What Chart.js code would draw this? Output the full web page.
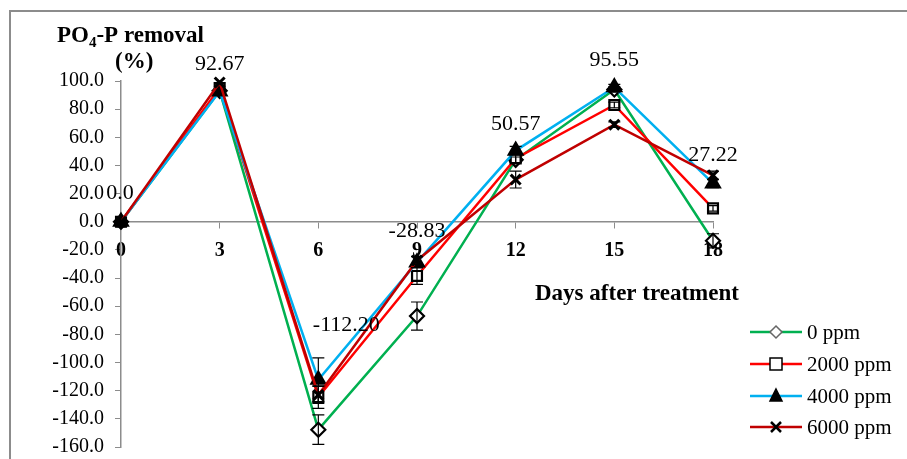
<!DOCTYPE html>
<html lang="en">
<head>
  <meta charset="UTF-8">
  <title>PO4-P removal</title>
  <script src="https://cdn.jsdelivr.net/npm/chart.js"></script>
  <style>
    body { margin: 0; background: #fff; overflow: hidden; }
    #poChart { display: block; }
  </style>
</head>
<body>
  <canvas id="poChart" width="907" height="459"></canvas>

  <script>
    const days = [0, 3, 6, 9, 12, 15, 18];
    const ppm0 = [0, 93.0, -147.7, -67.0, 44.0, 94.0, -13.5];
    const ppm2000 = [0, 95.0, -124.5, -38.5, 45.0, 83.0, 9.5];
    const ppm4000 = [0, 92.67, -112.20, -28.83, 50.57, 95.55, 27.22];
    const ppm6000 = [0, 99.0, -123.0, -27.5, 30.0, 69.0, 33.0];
    const err0 = [0, 0, 10.5, 10, 2, 2, 5];
    const err2000 = [0, 0, 8, 6, 3, 2, 2];
    const err4000 = [0, 0, 15.5, 4, 3, 2, 3];
    const err6000 = [0, 0, 6, 3, 6, 2, 3];
    const labels4000 = ['0.0', '92.67', '-112.20', '-28.83', '50.57', '95.55', '27.22'];
    const yTicks = [100, 80, 60, 40, 20, 0, -20, -40, -60, -80, -100, -120, -140, -160];

    const serif = "'Liberation Serif', 'Times New Roman', serif";

    function pts(vals) {
      return days.map((d, i) => ({ x: d, y: vals[i] }));
    }

    function series(label, vals, errs, color, style, fill, order) {
      return {
        label: label,
        data: pts(vals),
        errors: errs,
        order: order,
        borderColor: color,
        backgroundColor: color,
        borderWidth: 2.5,
        pointStyle: style,
        pointRadius: style === 'triangle' ? 8 : 7,
        pointBorderColor: '#000',
        pointBackgroundColor: fill,
        pointBorderWidth: style === 'crossRot' ? 3 : 2.2,
        clip: false
      };
    }

    // error bars, data labels, titles, legend and frame
    const extras = {
      id: 'extras',
      afterDatasetsDraw(chart) {
        const c = chart.ctx;
        const ys = chart.scales.y;
        c.save();
        c.strokeStyle = '#000';
        c.lineWidth = 1.2;
        chart.data.datasets.forEach((ds, di) => {
          const meta = chart.getDatasetMeta(di);
          meta.data.forEach((p, i) => {
            const e = ds.errors[i];
            if (!e) return;
            const v = ds.data[i].y;
            const top = ys.getPixelForValue(v + e);
            const bot = ys.getPixelForValue(v - e);
            c.beginPath();
            c.moveTo(p.x, top); c.lineTo(p.x, bot);
            c.moveTo(p.x - 6, top); c.lineTo(p.x + 6, top);
            c.moveTo(p.x - 6, bot); c.lineTo(p.x + 6, bot);
            c.stroke();
          });
        });

        // data labels for 4000 ppm
        const nudge = [[-1, 23], [0, 21], [28, 49], [0, 25], [0, 21], [0, 21], [0, 22]];
        const meta4 = chart.getDatasetMeta(2);
        c.fillStyle = '#000';
        c.font = '22px ' + serif;
        c.textAlign = 'center';
        c.textBaseline = 'alphabetic';
        meta4.data.forEach((p, i) => {
          c.fillText(labels4000[i], p.x + nudge[i][0], p.y - nudge[i][1]);
        });
        c.restore();
      },
      afterDraw(chart) {
        const c = chart.ctx;
        c.save();
        // frame
        c.strokeStyle = '#8c8c8c';
        c.lineWidth = 2;
        c.strokeRect(10, 11, 920, 480);

        // y title
        c.fillStyle = '#000';
        c.textAlign = 'left';
        c.textBaseline = 'alphabetic';
        c.font = 'bold 23px ' + serif;
        let x = 57;
        c.fillText('PO', x, 42);
        x += c.measureText('PO').width;
        c.font = 'bold 15px ' + serif;
        c.fillText('4', x, 47);
        x += c.measureText('4').width;
        c.font = 'bold 23px ' + serif;
        c.fillText('-P removal', x, 42);
        c.fillText('(%)', 115, 68);

        // x title
        c.fillText('Days after treatment', 535, 300);

        // legend
        const rows = [332, 364, 396, 427];
        chart.data.datasets.forEach((ds, i) => {
          const y = rows[i];
          c.strokeStyle = ds.borderColor;
          c.lineWidth = 2.5;
          c.beginPath();
          c.moveTo(750, y); c.lineTo(802, y);
          c.stroke();
          c.fillStyle = ds.pointBackgroundColor;
          c.strokeStyle = i === 0 ? '#666' : '#000';
          c.lineWidth = 1.5;
          c.beginPath();
          if (ds.pointStyle === 'rectRot') {
            c.moveTo(776, y - 6); c.lineTo(782, y); c.lineTo(776, y + 6); c.lineTo(770, y); c.closePath();
            c.fill(); c.stroke();
          } else if (ds.pointStyle === 'rect') {
            c.rect(770, y - 6, 12, 12);
            c.fill(); c.stroke();
          } else if (ds.pointStyle === 'triangle') {
            c.moveTo(776, y - 7); c.lineTo(782, y + 5); c.lineTo(770, y + 5); c.closePath();
            c.fill(); c.stroke();
          } else {
            c.lineWidth = 2.5;
            c.moveTo(771, y - 5); c.lineTo(781, y + 5);
            c.moveTo(781, y - 5); c.lineTo(771, y + 5);
            c.stroke();
          }
          c.fillStyle = '#000';
          c.font = '21px ' + serif;
          c.textBaseline = 'middle';
          c.fillText(ds.label, 807, y + 1);
        });
        c.restore();
      }
    };

    const ctx = document.getElementById('poChart').getContext('2d');

    const chart = new Chart(ctx, {
      type: 'line',
      data: {
        datasets: [
          series('0 ppm', ppm0, err0, '#00b050', 'rectRot', '#fff', 3),
          series('2000 ppm', ppm2000, err2000, '#ff0000', 'rect', '#fff', 2),
          series('4000 ppm', ppm4000, err4000, '#00b0f0', 'triangle', '#000', 1),
          series('6000 ppm', ppm6000, err6000, '#c00000', 'crossRot', '#000', 0)
        ]
      },
      options: {
        responsive: false,
        animation: false,
        layout: { padding: { top: 81, right: 194, bottom: 12, left: 0 } },
        plugins: {
          legend: { display: false },
          tooltip: { enabled: false }
        },
        scales: {
          x: {
            type: 'linear',
            position: { y: 0 },
            min: 0,
            max: 18,
            afterBuildTicks: (scale) => { scale.ticks = days.map(d => ({ value: d })); },
            ticks: {
              color: '#000',
              padding: 11,
              font: { family: serif, size: 20, weight: 'bold' }
            },
            grid: { drawOnChartArea: false, tickLength: 6, color: '#8c8c8c' },
            border: { color: '#8c8c8c', width: 1.5 }
          },
          y: {
            min: -160,
            max: 100,
            afterBuildTicks: (scale) => { scale.ticks = yTicks.map(v => ({ value: v })); },
            afterFit: (scale) => {
              scale.width = 121;
              scale.paddingTop = 0;
              scale.paddingBottom = 0;
            },
            ticks: {
              color: '#000',
              padding: 11,
              callback: (v) => Number(v).toFixed(1),
              font: { family: serif, size: 20 }
            },
            grid: { drawOnChartArea: false, tickLength: 6, color: '#8c8c8c' },
            border: { color: '#8c8c8c', width: 1.5 }
          }
        }
      },
      plugins: [extras]
    });
  </script>
</body>
</html>
